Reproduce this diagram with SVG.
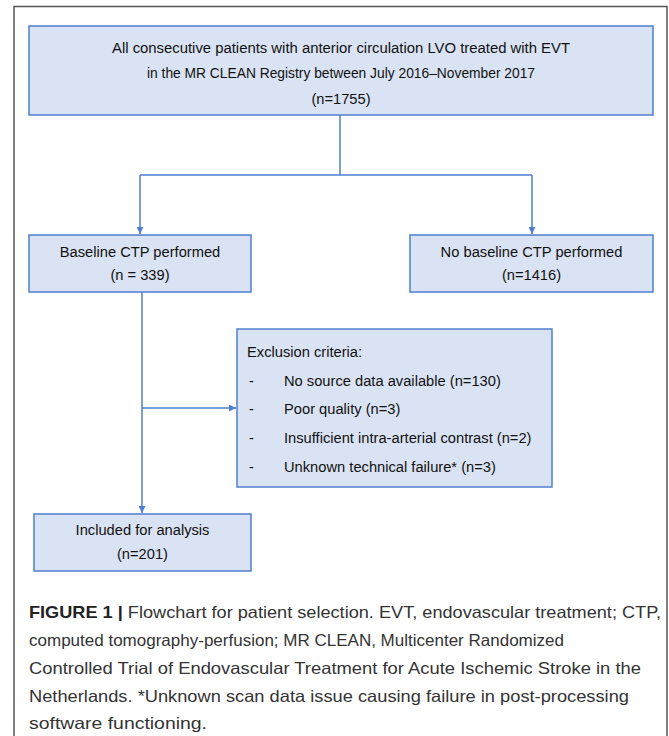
<svg xmlns="http://www.w3.org/2000/svg" width="669" height="736" viewBox="0 0 669 736">
<style>
.box{fill:#dae3f3;stroke:#4f7fd0;stroke-width:1.5}
.t{font-family:"Liberation Sans",Arial,sans-serif;font-size:14.7px;fill:#111}
.c{text-anchor:middle}
.cap{font-family:"Liberation Sans",Arial,sans-serif;font-size:16.5px;fill:#333}
.ln{fill:none;stroke:#4f7fd0;stroke-width:1.5}
</style>
<defs>
<marker id="ah" viewBox="0 0 10 10" refX="10" refY="5" markerWidth="7" markerHeight="7" markerUnits="userSpaceOnUse" orient="auto">
<path d="M0,0 L10,5 L0,10 z" fill="#4f7fd0"/>
</marker>
</defs>
<rect width="669" height="736" fill="#fff"/>
<rect x="14" y="6.5" width="653" height="740" fill="none" stroke="#555" stroke-width="1.5"/>
<g id="connectors">
<path class="ln" d="M340,115 V175"/>
<path class="ln" d="M140,175 H532"/>
<path class="ln" d="M140,175 V234" marker-end="url(#ah)"/>
<path class="ln" d="M532,175 V234" marker-end="url(#ah)"/>
<path class="ln" d="M142,292 V513" marker-end="url(#ah)"/>
<path class="ln" d="M142,408 H236" marker-end="url(#ah)"/>
</g>
<g id="n1">
<rect class="box" x="29" y="26" width="624" height="89"/>
<text class="t c" x="341" y="53" textLength="458" lengthAdjust="spacingAndGlyphs">All consecutive patients with anterior circulation LVO treated with EVT</text>
<text class="t c" x="341" y="78" textLength="388" lengthAdjust="spacingAndGlyphs">in the MR CLEAN Registry between July 2016–November 2017</text>
<text class="t c" x="341" y="104">(n=1755)</text>
</g>
<g id="n2">
<rect class="box" x="29" y="235" width="222" height="57"/>
<text class="t c" x="140" y="257">Baseline CTP performed</text>
<text class="t c" x="140" y="280">(n = 339)</text>
</g>
<g id="n3">
<rect class="box" x="410" y="235" width="243" height="57"/>
<text class="t c" x="531.5" y="257">No baseline CTP performed</text>
<text class="t c" x="531.5" y="280">(n=1416)</text>
</g>
<g id="n4">
<rect class="box" x="237" y="329" width="315" height="158"/>
<text class="t" x="247" y="357">Exclusion criteria:</text>
<text class="t" x="249" y="386">-</text>
<text class="t" x="284" y="386">No source data available (n=130)</text>
<text class="t" x="249" y="414">-</text>
<text class="t" x="284" y="414">Poor quality (n=3)</text>
<text class="t" x="249" y="443">-</text>
<text class="t" x="284" y="443">Insufficient intra-arterial contrast (n=2)</text>
<text class="t" x="249" y="472">-</text>
<text class="t" x="284" y="472">Unknown technical failure* (n=3)</text>
</g>
<g id="n5">
<rect class="box" x="34" y="514" width="217" height="57"/>
<text class="t c" x="142.5" y="535">Included for analysis</text>
<text class="t c" x="142.5" y="559">(n=201)</text>
</g>
<g id="caption">
<text class="cap" x="29" y="618" textLength="632" lengthAdjust="spacingAndGlyphs"><tspan font-weight="bold" fill="#222">FIGURE 1 |</tspan> Flowchart for patient selection. EVT, endovascular treatment; CTP,</text>
<text class="cap" x="29" y="646" textLength="535" lengthAdjust="spacingAndGlyphs">computed tomography-perfusion; MR CLEAN, Multicenter Randomized</text>
<text class="cap" x="29" y="674" textLength="612" lengthAdjust="spacingAndGlyphs">Controlled Trial of Endovascular Treatment for Acute Ischemic Stroke in the</text>
<text class="cap" x="29" y="702" textLength="600" lengthAdjust="spacingAndGlyphs">Netherlands. *Unknown scan data issue causing failure in post-processing</text>
<text class="cap" x="29" y="729" textLength="178" lengthAdjust="spacingAndGlyphs">software functioning.</text>
</g>
</svg>
